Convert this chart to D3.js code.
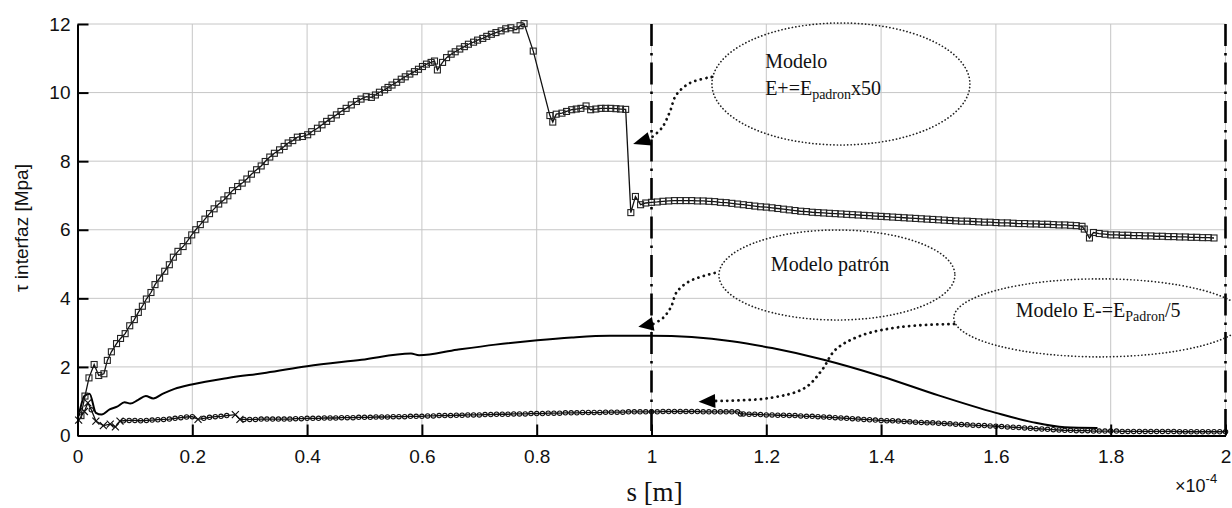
<!DOCTYPE html>
<html>
<head>
<meta charset="utf-8">
<script src="https://cdn.jsdelivr.net/npm/d3@7"></script>
<style>
  body { margin: 0; background: #fff; }
  .tick text { font-family: "Liberation Sans", Arial, sans-serif; font-size: 19px; fill: #111; }
</style>
</head>
<body>
<div id="the_chart"></div>
<script>

// axis ticks
var xTicks = [0, 0.2, 0.4, 0.6, 0.8, 1, 1.2, 1.4, 1.6, 1.8, 2];
var yTicks = [0, 2, 4, 6, 8, 10, 12];

// s in units of 1e-4 m, tau in MPa

// Modelo E+ = Epadron x50 (square markers)
var sqS = [0.006,0.013,0.020,0.029,0.037,0.046,0.052,0.059,0.068,0.075,
  0.083,0.091,0.099,0.106,0.113,0.120,0.128,0.135,0.143,0.152,
  0.160,0.167,0.175,0.184,0.192,0.199,0.206,0.214,0.222,0.230,
  0.238,0.246,0.255,0.262,0.270,0.279,0.287,0.295,0.303,0.312,
  0.320,0.327,0.335,0.343,0.352,0.360,0.367,0.375,0.383,0.392,
  0.401,0.408,0.418,0.426,0.434,0.442,0.451,0.459,0.468,0.477,
  0.486,0.494,0.503,0.512,0.519,0.526,0.535,0.541,0.548,0.556,
  0.564,0.571,0.579,0.587,0.594,0.601,0.608,0.616,0.622,0.627,
  0.636,0.643,0.651,0.658,0.666,0.674,0.681,0.690,0.697,0.706,
  0.713,0.721,0.729,0.738,0.746,0.755,0.764,0.771,0.778,0.794,
  0.823,0.828,0.834,0.844,0.852,0.861,0.869,0.877,0.886,0.894,
  0.903,0.912,0.920,0.929,0.938,0.946,0.955,0.964,0.972,0.981,
  0.990,1.00,1.01,1.02,1.03,1.04,1.05,1.06,1.07,1.08,
  1.09,1.10,1.11,1.12,1.13,1.14,1.15,1.16,1.17,1.18,
  1.19,1.20,1.21,1.22,1.23,1.24,1.25,1.26,1.27,1.28,
  1.29,1.30,1.31,1.32,1.33,1.34,1.35,1.36,1.37,1.38,
  1.39,1.40,1.41,1.42,1.43,1.44,1.45,1.46,1.47,1.48,
  1.49,1.50,1.51,1.52,1.53,1.54,1.55,1.56,1.57,1.58,
  1.59,1.60,1.61,1.62,1.63,1.64,1.65,1.66,1.67,1.68,
  1.69,1.70,1.71,1.72,1.73,1.74,1.75,1.754,1.763,1.770,
  1.78,1.79,1.80,1.81,1.82,1.83,1.84,1.85,1.86,1.87,
  1.88,1.89,1.90,1.91,1.92,1.93,1.94,1.95,1.96,1.97,1.98];
var sqV = [0.58,1.15,1.68,2.07,1.75,1.80,2.19,2.44,2.68,2.83,
  2.97,3.20,3.38,3.59,3.77,3.98,4.17,4.40,4.59,4.79,
  4.98,5.20,5.37,5.51,5.68,5.85,6.00,6.15,6.31,6.47,
  6.61,6.75,6.87,6.99,7.14,7.26,7.36,7.48,7.62,7.75,
  7.86,7.99,8.12,8.23,8.33,8.43,8.53,8.60,8.70,8.72,
  8.77,8.86,8.96,9.06,9.16,9.25,9.35,9.45,9.54,9.64,
  9.74,9.81,9.88,9.86,9.93,10.01,10.08,10.15,10.22,10.30,
  10.39,10.46,10.54,10.61,10.68,10.76,10.83,10.88,10.92,10.66,
  10.88,11.02,11.12,11.19,11.27,11.34,11.41,11.47,11.53,11.58,
  11.64,11.70,11.75,11.80,11.86,11.89,11.83,11.95,12.01,11.21,
  9.33,9.14,9.37,9.40,9.45,9.50,9.52,9.54,9.61,9.50,
  9.52,9.54,9.54,9.54,9.53,9.52,9.51,6.50,6.97,6.73,
  6.78,6.80,6.81,6.83,6.84,6.85,6.85,6.85,6.85,6.84,
  6.84,6.83,6.82,6.80,6.79,6.77,6.75,6.73,6.71,6.69,
  6.67,6.66,6.64,6.62,6.60,6.58,6.56,6.54,6.53,6.51,
  6.50,6.49,6.48,6.47,6.46,6.45,6.44,6.43,6.42,6.41,
  6.40,6.39,6.38,6.37,6.36,6.35,6.34,6.33,6.32,6.31,
  6.30,6.29,6.28,6.27,6.26,6.25,6.25,6.24,6.23,6.22,
  6.22,6.21,6.20,6.20,6.19,6.18,6.18,6.17,6.17,6.16,
  6.16,6.15,6.14,6.14,6.13,6.12,6.10,6.02,5.76,5.92,
  5.89,5.87,5.85,5.85,5.84,5.84,5.83,5.83,5.82,5.82,
  5.81,5.81,5.80,5.80,5.79,5.79,5.78,5.78,5.77,5.77,5.76];

// Modelo patron (plain line)
var patS = [0.002,0.012,0.021,0.032,0.042,0.056,0.069,0.082,0.092,0.105,
  0.119,0.132,0.149,0.169,0.199,0.262,0.329,0.40,0.495,0.581,
  0.595,0.661,0.728,0.801,0.861,0.927,1.0,1.07,1.14,1.21,
  1.30,1.40,1.50,1.60,1.663,1.72,1.777];
var patV = [0.56,1.15,1.22,0.66,0.61,0.76,0.84,0.97,0.93,1.03,
  1.15,1.08,1.22,1.36,1.49,1.68,1.83,2.02,2.21,2.39,
  2.34,2.50,2.65,2.78,2.86,2.91,2.91,2.87,2.75,2.55,
  2.21,1.73,1.17,0.66,0.39,0.24,0.22];

// Modelo E- = Epadron/5 (small markers)
var lowS = [0.002,0.012,0.018,0.024,0.032,0.045,0.057,0.066,0.074,
  0.08,0.09,0.10,0.11,0.12,0.13,0.14,0.15,0.16,0.17,0.18,0.19,0.20,
  0.21,0.22,0.23,0.24,0.25,0.26,0.275,0.283,
  0.29,0.30,0.31,0.32,0.33,0.34,0.35,0.36,0.37,0.38,0.39,
  0.40,0.41,0.42,0.43,0.44,0.45,0.46,0.47,0.48,0.49,
  0.50,0.51,0.52,0.53,0.54,0.55,0.56,0.57,0.58,0.59,
  0.60,0.61,0.62,0.63,0.64,0.65,0.66,0.67,0.68,0.69,
  0.70,0.71,0.72,0.73,0.74,0.75,0.76,0.77,0.78,0.79,
  0.80,0.81,0.82,0.83,0.84,0.85,0.86,0.87,0.88,0.89,
  0.90,0.91,0.92,0.93,0.94,0.95,0.96,0.97,0.98,0.99,
  1.00,1.01,1.02,1.03,1.04,1.05,1.06,1.07,1.08,1.09,
  1.10,1.11,1.12,1.13,1.14,1.15,1.155,1.16,1.17,1.18,1.19,
  1.20,1.21,1.22,1.23,1.24,1.25,1.26,1.27,1.28,1.29,
  1.30,1.31,1.32,1.33,1.34,1.35,1.36,1.37,1.38,1.39,
  1.40,1.41,1.42,1.43,1.44,1.45,1.46,1.47,1.48,1.49,
  1.50,1.51,1.52,1.53,1.54,1.55,1.56,1.57,1.58,1.59,
  1.60,1.61,1.62,1.63,1.64,1.65,1.66,1.67,1.68,1.69,
  1.70,1.71,1.72,1.73,1.74,1.75,1.76,1.77,1.78,1.79,
  1.80,1.81,1.82,1.83,1.84,1.85,1.86,1.87,1.88,1.89,
  1.90,1.91,1.92,1.93,1.94,1.95,1.96,1.97,1.98,1.99,2.00];
var lowV = [0.45,0.70,0.95,0.75,0.42,0.29,0.33,0.25,0.42,
  0.43,0.44,0.44,0.43,0.44,0.45,0.46,0.47,0.48,0.50,0.52,0.54,0.55,
  0.47,0.50,0.53,0.55,0.56,0.58,0.61,0.47,
  0.47,0.47,0.47,0.48,0.48,0.48,0.48,0.48,0.48,0.49,0.49,
  0.50,0.50,0.50,0.51,0.51,0.51,0.52,0.52,0.52,0.53,
  0.53,0.53,0.54,0.54,0.54,0.55,0.55,0.55,0.56,0.56,
  0.56,0.57,0.57,0.58,0.58,0.58,0.59,0.59,0.60,0.60,
  0.60,0.61,0.61,0.62,0.62,0.62,0.63,0.63,0.63,0.64,
  0.64,0.64,0.65,0.65,0.65,0.66,0.66,0.66,0.67,0.67,
  0.67,0.67,0.68,0.68,0.68,0.68,0.69,0.69,0.69,0.69,
  0.69,0.69,0.70,0.70,0.70,0.70,0.70,0.70,0.70,0.69,
  0.69,0.69,0.69,0.69,0.69,0.69,0.63,0.63,0.62,0.62,0.61,
  0.60,0.60,0.59,0.59,0.58,0.58,0.57,0.56,0.56,0.55,
  0.54,0.53,0.52,0.51,0.50,0.49,0.48,0.47,0.46,0.45,
  0.44,0.43,0.43,0.42,0.41,0.40,0.39,0.38,0.37,0.37,
  0.36,0.35,0.34,0.33,0.32,0.31,0.30,0.29,0.29,0.28,
  0.27,0.26,0.25,0.24,0.23,0.22,0.21,0.20,0.19,0.18,
  0.17,0.16,0.15,0.15,0.14,0.14,0.14,0.13,0.13,0.13,
  0.13,0.13,0.12,0.12,0.12,0.12,0.12,0.12,0.12,0.12,
  0.12,0.12,0.11,0.11,0.11,0.11,0.11,0.11,0.11,0.11,0.11];
// points of the low series drawn with "x" instead of circles
var crossS = [0.002,0.012,0.018,0.032,0.045,0.057,0.066,0.074,0.21,0.275,0.283];

// dash-dot reference lines
var refS = [1, 2];

// callouts, in data units (s, tau)
var ellipseC = [[1.330, 10.25], [1.323, 4.68], [1.781, 3.43]];
var ellipseR = [[129, 61], [118, 45], [146, 39]];
var arrowPts = [
  [[1.105,10.455],[1.067,10.28],[1.043,9.93],[1.032,9.44],[1.018,8.97],[0.997,8.65]],
  [[1.110,4.739],[1.067,4.505],[1.044,4.184],[1.034,3.747],[1.020,3.427],[1.003,3.252]],
  [[1.527,3.252],[1.433,3.164],[1.363,2.902],[1.320,2.493],[1.297,1.910],[1.267,1.385],[1.206,1.094],[1.111,1.006]]
];
var arrowTip = [[0.968, 8.50], [0.977, 3.173], [1.082, 0.986]];


var w = 1232;
var h = 508;
var serif = "\"Liberation Serif\", \"Times New Roman\", Times, serif";
var sans = "\"Liberation Sans\", Arial, Helvetica, sans-serif";

var svg = d3.select("#the_chart")
  .append("svg")
  .attr("width", w)
  .attr("height", h)
  .style("background", "#fff");

var x = d3.scaleLinear()
  .domain([0, 2])
  .range([77.5, 1225.5]);

var y = d3.scaleLinear()
  .domain([0, 12])
  .range([435.5, 24]);

gen_grid();
gen_refs();
gen_series();
gen_axes();
gen_callouts();


function gen_grid() {
  var g = svg.append("g").attr("stroke", "#c6c6c6").attr("stroke-width", 1);

  g.selectAll("line.v")
    .data(xTicks.slice(1))
    .enter().append("line")
    .attr("class", "v")
    .attr("x1", function (d) { return x(d); })
    .attr("x2", function (d) { return x(d); })
    .attr("y1", y(0))
    .attr("y2", y(12));

  g.selectAll("line.h")
    .data(yTicks.slice(1))
    .enter().append("line")
    .attr("class", "h")
    .attr("x1", x(0))
    .attr("x2", x(2))
    .attr("y1", function (d) { return y(d); })
    .attr("y2", function (d) { return y(d); });
}

function gen_refs() {
  svg.selectAll("line.ref")
    .data(refS)
    .enter().append("line")
    .attr("class", "ref")
    .attr("x1", function (d) { return x(d); })
    .attr("x2", function (d) { return x(d); })
    .attr("y1", y(12))
    .attr("y2", y(0))
    .attr("stroke", "#000")
    .attr("stroke-width", 2.6)
    .attr("stroke-dasharray", "22,7,2.5,7");
}

function gen_series() {
  var line = d3.line()
    .x(function (d) { return x(d[0]); })
    .y(function (d) { return y(d[1]); });

  var sq = d3.zip(sqS, sqV);
  var pat = d3.zip(patS, patV);
  var low = d3.zip(lowS, lowV);

  // patron
  svg.append("path")
    .datum(pat)
    .attr("fill", "none")
    .attr("stroke", "#000")
    .attr("stroke-width", 2)
    .attr("d", line.curve(d3.curveMonotoneX));

  line.curve(d3.curveLinear);

  // E- series
  svg.append("path")
    .datum(low)
    .attr("fill", "none")
    .attr("stroke", "#111")
    .attr("stroke-width", 1.3)
    .attr("d", line);

  svg.selectAll("circle.low")
    .data(low.filter(function (d) { return crossS.indexOf(d[0]) < 0; }))
    .enter().append("circle")
    .attr("class", "low")
    .attr("cx", function (d) { return x(d[0]); })
    .attr("cy", function (d) { return y(d[1]); })
    .attr("r", 2.2)
    .attr("fill", "none")
    .attr("stroke", "#111")
    .attr("stroke-width", 1.1);

  svg.selectAll("path.cross")
    .data(low.filter(function (d) { return crossS.indexOf(d[0]) >= 0; }))
    .enter().append("path")
    .attr("class", "cross")
    .attr("d", function (d) {
      var cx = x(d[0]), cy = y(d[1]), r = 3.5;
      return "M" + (cx - r) + "," + (cy - r) + "L" + (cx + r) + "," + (cy + r) +
        "M" + (cx - r) + "," + (cy + r) + "L" + (cx + r) + "," + (cy - r);
    })
    .attr("stroke", "#111")
    .attr("stroke-width", 1.2);

  // E+ series
  svg.append("path")
    .datum(sq)
    .attr("fill", "none")
    .attr("stroke", "#111")
    .attr("stroke-width", 1.3)
    .attr("d", line);

  svg.selectAll("rect.sq")
    .data(sq)
    .enter().append("rect")
    .attr("class", "sq")
    .attr("x", function (d) { return x(d[0]) - 3; })
    .attr("y", function (d) { return y(d[1]) - 3; })
    .attr("width", 6)
    .attr("height", 6)
    .attr("fill", "none")
    .attr("stroke", "#222")
    .attr("stroke-width", 1.1);
}

function gen_axes() {
  var fmt = d3.format("~g");

  var yaxis = d3.axisLeft(y)
    .tickValues(yTicks)
    .tickSize(-11)
    .tickSizeOuter(0)
    .tickPadding(7);

  var xaxis = d3.axisBottom(x)
    .tickValues(xTicks)
    .tickFormat(fmt)
    .tickSize(-11)
    .tickSizeOuter(0)
    .tickPadding(14);

  var gY = svg.append("g")
    .attr("transform", "translate(" + x(0) + ",0)")
    .call(yaxis);

  var gX = svg.append("g")
    .attr("transform", "translate(0," + y(0) + ")")
    .call(xaxis);

  [gY, gX].forEach(function (g) {
    g.select(".domain").attr("stroke", "#000").attr("stroke-width", 2);
    g.selectAll(".tick line").attr("stroke", "#000").attr("stroke-width", 2);
  });

  svg.append("text")
    .attr("transform", "translate(28,228) rotate(-90)")
    .attr("text-anchor", "middle")
    .style("font-family", sans)
    .style("font-size", "19px")
    .attr("fill", "#111")
    .text("τ interfaz [Mpa]");

  svg.append("text")
    .attr("x", x(1) + 3)
    .attr("y", 501)
    .attr("text-anchor", "middle")
    .style("font-family", serif)
    .style("font-size", "27px")
    .attr("fill", "#111")
    .text("s [m]");

  var mult = svg.append("text")
    .attr("x", 1175)
    .attr("y", 492)
    .style("font-family", sans)
    .style("font-size", "18px")
    .attr("fill", "#111");
  mult.append("tspan").text("×10");
  mult.append("tspan").attr("dy", -9).style("font-size", "13px").text("-4");
}

function gen_callouts() {
  var g = svg.append("g");

  g.selectAll("ellipse")
    .data(ellipseC)
    .enter().append("ellipse")
    .attr("cx", function (d) { return x(d[0]); })
    .attr("cy", function (d) { return y(d[1]); })
    .attr("rx", function (d, i) { return ellipseR[i][0]; })
    .attr("ry", function (d, i) { return ellipseR[i][1]; })
    .attr("fill", "none")
    .attr("stroke", "#222")
    .attr("stroke-width", 1.7)
    .attr("stroke-linecap", "round")
    .attr("stroke-dasharray", "0.1,3.4");

  var curve = d3.line()
    .x(function (d) { return x(d[0]); })
    .y(function (d) { return y(d[1]); })
    .curve(d3.curveCatmullRom.alpha(0.5));

  g.selectAll("path.arrow")
    .data(arrowPts)
    .enter().append("path")
    .attr("class", "arrow")
    .attr("d", curve)
    .attr("fill", "none")
    .attr("stroke", "#111")
    .attr("stroke-width", 2.8)
    .attr("stroke-linecap", "round")
    .attr("stroke-dasharray", "0.1,5.5");

  g.selectAll("path.head")
    .data(arrowTip)
    .enter().append("path")
    .attr("class", "head")
    .attr("d", function (d, i) {
      var pts = arrowPts[i];
      var b = pts[pts.length - 1];
      var bx = x(b[0]), by = y(b[1]), tx = x(d[0]), ty = y(d[1]);
      var len = Math.hypot(tx - bx, ty - by);
      var nx = -(ty - by) / len * 7, ny = (tx - bx) / len * 7;
      return "M" + tx + "," + ty + "L" + (bx + nx) + "," + (by + ny) +
        "L" + (bx - nx) + "," + (by - ny) + "Z";
    })
    .attr("fill", "#000");

  // texts
  g.append("text")
    .attr("x", x(1.198)).attr("y", y(10.717))
    .style("font-family", serif).style("font-size", "20px").attr("fill", "#111")
    .text("Modelo");
  var t1b = g.append("text")
    .attr("x", x(1.198)).attr("y", y(9.93))
    .style("font-family", serif).style("font-size", "20px").attr("fill", "#111");
  t1b.append("tspan").text("E+=E");
  t1b.append("tspan").attr("dy", 4).style("font-size", "14px").text("padron");
  t1b.append("tspan").attr("dy", -4).text("x50");

  g.append("text")
    .attr("x", x(1.311)).attr("y", y(4.797))
    .attr("text-anchor", "middle")
    .style("font-family", serif).style("font-size", "20px").attr("fill", "#111")
    .text("Modelo patrón");

  var t3 = g.append("text")
    .attr("x", x(1.778)).attr("y", y(3.456))
    .attr("text-anchor", "middle")
    .style("font-family", serif).style("font-size", "20px").attr("fill", "#111");
  t3.append("tspan").text("Modelo E-=E");
  t3.append("tspan").attr("dy", 4).style("font-size", "14px").text("Padron");
  t3.append("tspan").attr("dy", -4).text("/5");
}

</script>
</body>
</html>
